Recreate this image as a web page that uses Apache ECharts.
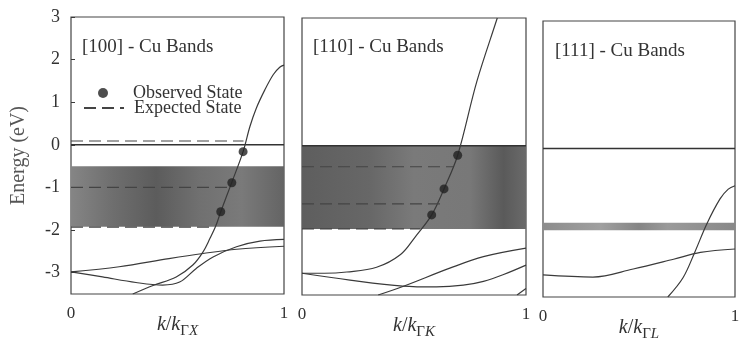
<!DOCTYPE html>
<html>
<head>
<meta charset="utf-8">
<script src="https://cdn.jsdelivr.net/npm/echarts@6/dist/echarts.min.js"></script>
<style>
  html, body { margin: 0; padding: 0; background: #fff; }
  #chart { width: 739px; height: 341px; }
</style>
</head>
<body>
<div id="chart"></div>
<script>
// tick labels
var xTicks = [0, 1];
var yTicks = [-3, -2, -1, 0, 1, 2, 3];
var panelTitles = ['[100] - Cu Bands', '[110] - Cu Bands', '[111] - Cu Bands'];
var panelSub = ['X', 'K', 'L'];

// [100] bands as [k, E]
var steep100 = [[0.29,-3.5],[0.385,-3.3],[0.494,-3.1],[0.572,-2.82],[0.62,-2.51],[0.652,-2.2],[0.68,-1.9],[0.703,-1.57],[0.755,-0.88],[0.808,-0.16],[0.84,0.43],[0.87,0.86],[0.91,1.29],[0.95,1.65],[0.98,1.82],[1.0,1.87]];
var lower100 = [[0,-2.98],[0.148,-3.1],[0.305,-3.23],[0.43,-3.29],[0.51,-3.22],[0.588,-2.9],[0.667,-2.63],[0.777,-2.39],[0.887,-2.26],[1.0,-2.22]];
var upper100 = [[0,-2.98],[0.226,-2.86],[0.46,-2.67],[0.62,-2.55],[0.777,-2.45],[1.0,-2.38]];
var observed100 = [[0.808,-0.16],[0.755,-0.89],[0.703,-1.57]];
var expected100 = [0.09, -1.0, -1.93];
var expectedEnd100 = [0.81, 0.745, 0.67];
var shade100 = [-0.5, -1.92];

// [110] bands
var steep110 = [[0,-2.99],[0.1,-2.99],[0.2,-2.96],[0.333,-2.85],[0.44,-2.55],[0.505,-2.14],[0.579,-1.62],[0.634,-1.01],[0.695,-0.22],[0.78,1.5],[0.87,2.97],[0.872,3.0]];
var lower110 = [[0,-2.99],[0.214,-3.15],[0.45,-3.29],[0.6,-3.31],[0.72,-3.27],[0.81,-3.18],[0.9,-3.02],[1.0,-2.8]];
var rising110 = [[0.34,-3.5],[0.45,-3.3],[0.66,-2.87],[0.81,-2.6],[1.0,-2.4]];
var corner110 = [[0.96,-3.5],[1.0,-3.35]];
var observed110 = [[0.695,-0.22],[0.634,-1.01],[0.579,-1.62]];
var expected110 = [-0.49, -1.36, -1.95];
var expectedEnd110 = [0.675, 0.616, 0.527];
var shade110 = [0, -1.95];

// [111] bands
var gentle111 = [[0,-2.98],[0.26,-3.03],[0.47,-2.84],[0.68,-2.61],[0.82,-2.45],[1.0,-2.37]];
var steep111 = [[0.65,-3.5],[0.73,-3.04],[0.79,-2.45],[0.853,-1.78],[0.922,-1.19],[0.965,-0.96],[1.0,-0.88]];
var shade111 = [-1.75, -1.93];

var font = "'Liberation Serif', 'DejaVu Serif', serif";
var ink = '#3a3a3a';

var chart = echarts.init(document.getElementById('chart'));

var grids = [
  { left: 71, top: 17, width: 213, height: 277 },
  { left: 302, top: 18, width: 224, height: 277 },
  { left: 543, top: 21, width: 192, height: 276 }
];

var shadeColors = [
  new echarts.graphic.LinearGradient(0, 0, 1, 0, [
    { offset: 0, color: '#858585' }, { offset: 0.2, color: '#6e6e6e' },
    { offset: 0.4, color: '#5c5c5c' }, { offset: 0.6, color: '#707070' },
    { offset: 0.8, color: '#7a7a7a' }, { offset: 1, color: '#646464' }
  ]),
  new echarts.graphic.LinearGradient(0, 0, 1, 0, [
    { offset: 0, color: '#5e5e5e' }, { offset: 0.3, color: '#676767' },
    { offset: 0.5, color: '#7a7a7a' }, { offset: 0.75, color: '#787878' },
    { offset: 0.9, color: '#5a5a5a' }, { offset: 1, color: '#6a6a6a' }
  ]),
  new echarts.graphic.LinearGradient(0, 0, 1, 0, [
    { offset: 0, color: '#8c8c8c' }, { offset: 0.3, color: '#a0a0a0' },
    { offset: 0.5, color: '#858585' }, { offset: 0.65, color: '#9a9a9a' },
    { offset: 1, color: '#888888' }
  ])
];

var xAxes = [], yAxes = [], series = [];

for (var p = 0; p < 3; p++) {
  xAxes.push({
    gridIndex: p, type: 'value', min: 0, max: 1,
    name: '{i|k}{r|/}{i|k}{g|Γ}{s|' + panelSub[p] + '}',
    nameLocation: 'middle', nameGap: 21, nameMoveOverlap: false,
    nameTextStyle: {
      rich: {
        i: { fontFamily: font, fontSize: 20, fontStyle: 'italic', color: '#333', verticalAlign: 'top', lineHeight: 20 },
        r: { fontFamily: font, fontSize: 20, color: '#333', verticalAlign: 'top', lineHeight: 20 },
        g: { fontFamily: font, fontSize: 15, color: '#333', verticalAlign: 'bottom', padding: [9, 0, 0, 0] },
        s: { fontFamily: font, fontSize: 15, fontStyle: 'italic', color: '#333', verticalAlign: 'bottom', padding: [9, 0, 0, 0] }
      }
    },
    axisLine: { show: false },
    axisTick: { show: false },
    splitLine: { show: false },
    axisLabel: { customValues: xTicks, fontFamily: font, fontSize: 17, color: '#333', margin: 11 }
  });
  yAxes.push({
    gridIndex: p, type: 'value', min: -3.5, max: 3,
    name: p === 0 ? 'Energy (eV)' : '',
    nameLocation: 'middle', nameGap: 42, nameMoveOverlap: false,
    nameTextStyle: { fontFamily: font, fontSize: 20, color: '#555' },
    axisLine: { show: false },
    axisTick: { show: p === 0, inside: true, length: 4, customValues: yTicks, lineStyle: { color: ink } },
    splitLine: { show: false },
    axisLabel: { show: p === 0, customValues: yTicks, fontFamily: font, fontSize: 18, color: '#333', margin: 11 }
  });
}

function bandLine(p, data) {
  return {
    type: 'line', xAxisIndex: p, yAxisIndex: p, data: data,
    smooth: 0.35, symbol: 'none', silent: true,
    lineStyle: { color: ink, width: 1.2 }, z: 3
  };
}

function fermi(p, shade) {
  return {
    type: 'line', xAxisIndex: p, yAxisIndex: p, data: [[0, 0], [1, 0]],
    symbol: 'none', silent: true,
    lineStyle: { color: '#333', width: 1.5 }, z: 3,
    markArea: {
      silent: true,
      itemStyle: { color: shadeColors[p] },
      data: [[{ xAxis: 0, yAxis: shade[0] }, { xAxis: 1, yAxis: shade[1] }]]
    }
  };
}

function expected(p, levels, ends) {
  levels.forEach(function (lv, i) {
    series.push({
      name: 'Expected State', type: 'line', xAxisIndex: p, yAxisIndex: p,
      data: [[0, lv], [ends[i], lv]], symbol: 'none', silent: true,
      lineStyle: { color: '#444', width: 1.2, type: [12, 6] }, itemStyle: { color: '#444' }, z: 4
    });
  });
}

function observed(p, data) {
  series.push({
    name: 'Observed State', type: 'scatter', xAxisIndex: p, yAxisIndex: p,
    data: data, symbol: 'circle', symbolSize: 9, silent: true,
    itemStyle: { color: '#222' }, z: 5
  });
}

series.push(fermi(0, shade100));
[steep100, lower100, upper100].forEach(function (d) { series.push(bandLine(0, d)); });
expected(0, expected100, expectedEnd100);
observed(0, observed100);

series.push(fermi(1, shade110));
[steep110, lower110, rising110, corner110].forEach(function (d) { series.push(bandLine(1, d)); });
expected(1, expected110, expectedEnd110);
observed(1, observed110);

series.push(fermi(2, shade111));
[gentle111, steep111].forEach(function (d) { series.push(bandLine(2, d)); });

var option = {
  animation: false,
  backgroundColor: '#fff',
  grid: grids.map(function (g) {
    return Object.assign({
      show: true, borderColor: '#444', borderWidth: 1.2, backgroundColor: 'transparent',
      containLabel: false, outerBoundsMode: 'none'
    }, g);
  }),
  title: [
    { text: panelTitles[0], left: 82, top: 38 },
    { text: panelTitles[1], left: 313, top: 38 },
    { text: panelTitles[2], left: 555, top: 42 }
  ].map(function (t) {
    t.padding = 0;
    t.textStyle = { fontFamily: font, fontSize: 19, fontWeight: 'normal', color: '#333' };
    return t;
  }),
  legend: [
    {
      data: ['Observed State'], left: 98, top: 84, padding: 0, selectedMode: false,
      itemWidth: 10, itemHeight: 10,
      textStyle: { fontFamily: font, fontSize: 18, color: '#333', padding: [0, 0, 0, 20] }
    },
    {
      data: ['Expected State'], left: 83, top: 99, padding: 0, selectedMode: false,
      itemWidth: 40, itemHeight: 10,
      itemStyle: { color: 'rgba(0,0,0,0)', borderWidth: 0, opacity: 0 },
      textStyle: { fontFamily: font, fontSize: 18, color: '#333', padding: [0, 0, 0, 5] }
    }
  ],
  xAxis: xAxes,
  yAxis: yAxes,
  series: series
};

chart.setOption(option);
</script>
</body>
</html>
